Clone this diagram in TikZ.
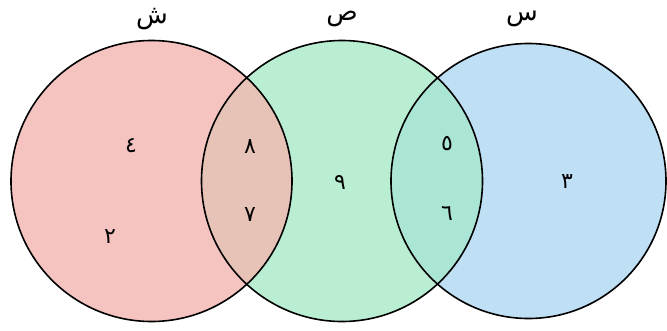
\documentclass[tikz,border=0pt]{standalone}
\usepackage{fontspec}
\newfontfamily\arabicfont[Script=Arabic]{DejaVu Sans}
\TeXXeTstate=1
\definecolor{cL}{HTML}{F5C4C1}
\definecolor{cM}{HTML}{BAEED3}
\definecolor{cR}{HTML}{BEDFF4}
\definecolor{cLM}{HTML}{E7C2B6}
\definecolor{cMR}{HTML}{ABE5D6}
\tikzset{
  ring/.style={draw=black, line width=1.6pt},
  lab/.style={font=\arabicfont\fontsize{26}{28}\selectfont, inner sep=0pt},
  num/.style={font=\arabicfont\fontsize{22}{24}\selectfont, inner sep=0pt}
}
\begin{document}
\begin{tikzpicture}[x=1pt,y=-1pt]
\useasboundingbox (0,0) rectangle (667,330);
\coordinate (L) at (151.5,181);
\coordinate (M) at (342,181);
\coordinate (R) at (528.5,181);
\fill[cL] (L) circle[radius=140.5pt];
\fill[cM] (M) circle[radius=140.5pt];
\fill[cR] (R) circle[radius=137.5pt];
\begin{scope}
  \clip (L) circle[radius=140.5pt];
  \fill[cLM] (M) circle[radius=140.5pt];
\end{scope}
\begin{scope}
  \clip (M) circle[radius=140.5pt];
  \fill[cMR] (R) circle[radius=137.5pt];
\end{scope}
\draw[ring] (L) circle[radius=140.5pt];
\draw[ring] (M) circle[radius=140.5pt];
\draw[ring] (R) circle[radius=137.5pt];
\node[lab] (tL) at (152,19) {\beginR ش\endR};
\node[lab] (tM) at (342,19) {\beginR ص\endR};
\node[lab] (tR) at (522,19) {\beginR س\endR};
\node[num] (n4) at (131,146) {٤};
\node[num] (n2) at (110,237) {٢};
\node[num] (n8) at (250,147) {٨};
\node[num] (n7) at (250,215) {٧};
\node[num] (n9) at (340,182) {٩};
\node[num] (n5) at (447,144) {٥};
\node[num] (n6) at (447,214) {٦};
\node[num] (n3) at (567,182) {٣};
\end{tikzpicture}
\end{document}
